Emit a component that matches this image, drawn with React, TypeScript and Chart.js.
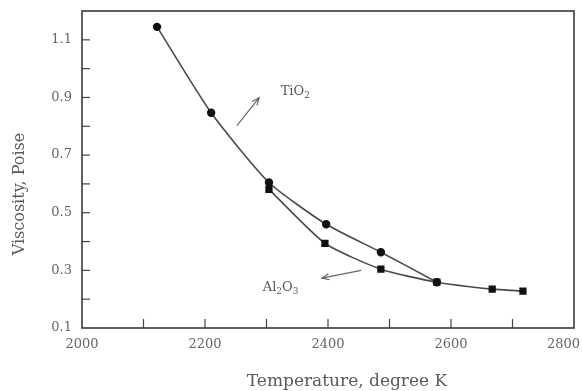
import React, { useEffect, useRef } from "react";
import { Chart, registerables } from "chart.js";

Chart.register(...registerables);

const tio2Temps = [2122, 2210, 2304, 2397, 2486, 2577];
const tio2Visc = [1.145, 0.847, 0.605, 0.46, 0.363, 0.259];
const al2o3Temps = [2304, 2395, 2486, 2577, 2667, 2717];
const al2o3Visc = [0.581, 0.394, 0.304, 0.259, 0.235, 0.228];
const xTitle = "Temperature, degree K";
const yTitle = "Viscosity, Poise";

const SERIF = "'DejaVu Serif', 'Liberation Serif', serif";

const framePlugin = {
  id: "frame",
  afterDraw(chart: any) {
    const { ctx, chartArea: a, scales } = chart;
    const xs = scales.x;
    const ys = scales.y;
    ctx.save();
    // frame
    ctx.strokeStyle = "#3a3a3a";
    ctx.lineWidth = 1.6;
    ctx.strokeRect(a.left, a.top, a.right - a.left, a.bottom - a.top);
    // inner ticks
    ctx.lineWidth = 1.2;
    ctx.strokeStyle = "#444";
    xs.ticks.forEach((t: any) => {
      const px = xs.getPixelForValue(t.value);
      if (px <= a.left + 1 || px >= a.right - 1) return;
      ctx.beginPath();
      ctx.moveTo(px, a.bottom);
      ctx.lineTo(px, a.bottom - 9);
      ctx.stroke();
    });
    ys.ticks.forEach((t: any) => {
      const py = ys.getPixelForValue(t.value);
      if (py >= a.bottom - 1 || py <= a.top + 1) return;
      ctx.beginPath();
      ctx.moveTo(a.left, py);
      ctx.lineTo(a.left + 8, py);
      ctx.stroke();
    });
    // x tick labels
    ctx.fillStyle = "#666";
    ctx.font = `13px ${SERIF}`;
    ctx.textBaseline = "middle";
    ctx.textAlign = "center";
    xs.ticks.forEach((t: any) => {
      const v = Math.round(t.value);
      if (v % 200 !== 0) return;
      const s = String(v);
      const w = ctx.measureText(s).width;
      let px = xs.getPixelForValue(t.value);
      if (px + w / 2 > chart.width - 2) px = chart.width - 2 - w / 2;
      ctx.fillText(s, px, a.bottom + 17);
    });
    // axis titles
    ctx.fillStyle = "#5a5a5a";
    ctx.font = `17px ${SERIF}`;
    ctx.textAlign = "center";
    ctx.textBaseline = "alphabetic";
    ctx.fillText(xTitle, 347, 386);
    ctx.save();
    ctx.translate(24, 194);
    ctx.rotate(-Math.PI / 2);
    ctx.font = `16px ${SERIF}`;
    ctx.fillText(yTitle, 0, 0);
    ctx.restore();

    // annotations
    const P = (x: number, y: number) => [xs.getPixelForValue(x), ys.getPixelForValue(y)];
    const drawArrow = (from: number[], to: number[]) => {
      ctx.strokeStyle = "#666";
      ctx.lineWidth = 1.2;
      ctx.beginPath();
      ctx.moveTo(from[0], from[1]);
      ctx.lineTo(to[0], to[1]);
      ctx.stroke();
      const ang = Math.atan2(to[1] - from[1], to[0] - from[0]);
      const L = 8;
      ctx.beginPath();
      ctx.moveTo(to[0] - L * Math.cos(ang - 0.4), to[1] - L * Math.sin(ang - 0.4));
      ctx.lineTo(to[0], to[1]);
      ctx.lineTo(to[0] - L * Math.cos(ang + 0.4), to[1] - L * Math.sin(ang + 0.4));
      ctx.stroke();
    };
    const drawChem = (parts: [string, boolean][], pos: number[]) => {
      let x = pos[0];
      ctx.fillStyle = "#555";
      ctx.textAlign = "left";
      ctx.textBaseline = "alphabetic";
      parts.forEach(([s, sub]) => {
        ctx.font = sub ? `9px ${SERIF}` : `13px ${SERIF}`;
        ctx.fillText(s, x, pos[1] + (sub ? 3 : 0));
        x += ctx.measureText(s).width;
      });
    };
    drawArrow(P(2252, 0.802), P(2288, 0.899));
    drawChem([["TiO", false], ["2", true]], P(2323, 0.91));
    drawArrow(P(2454, 0.3), P(2390, 0.273));
    drawChem([["Al", false], ["2", true], ["O", false], ["3", true]], P(2294, 0.23));
    ctx.restore();
  },
};

export default function App() {
  const ref = useRef<HTMLCanvasElement | null>(null);
  useEffect(() => {
    if (!ref.current) return;
    const chart = new Chart(ref.current, {
      type: "line",
      data: {
        datasets: [
          {
            label: "TiO2",
            data: tio2Temps.map((t, i) => ({ x: t, y: tio2Visc[i] })),
            borderColor: "#4a4a4a",
            borderWidth: 1.6,
            pointStyle: "circle",
            pointRadius: 3.4,
            pointBackgroundColor: "#111",
            pointBorderColor: "#111",
            tension: 0.2,
            order: 2,
          },
          {
            label: "Al2O3",
            data: al2o3Temps.map((t, i) => ({ x: t, y: al2o3Visc[i] })),
            borderColor: "#4a4a4a",
            borderWidth: 1.6,
            pointStyle: "rect",
            pointRadius: 4,
            pointBackgroundColor: "#111",
            pointBorderColor: "#111",
            tension: 0.2,
            order: 1,
          },
        ],
      },
      options: {
        animation: false,
        responsive: false,
        maintainAspectRatio: false,
        layout: { padding: { left: 0, right: 8, top: 11, bottom: 0 } },
        plugins: { legend: { display: false }, tooltip: { enabled: false } },
        scales: {
          x: {
            type: "linear",
            min: 2000,
            max: 2800,
            ticks: { stepSize: 100, display: false },
            grid: { display: false },
            border: { display: false },
            afterFit: (s: any) => {
              s.height = 63;
              s.paddingLeft = 0;
              s.paddingRight = 0;
            },
          },
          y: {
            type: "linear",
            min: 0.1,
            max: 1.2,
            ticks: {
              stepSize: 0.1,
              padding: 10,
              color: "#666",
              font: { family: SERIF, size: 13 },
              callback: (v: any) => {
                const k = Math.round(Number(v) * 10);
                return k % 2 === 1 && k <= 11 ? (k / 10).toFixed(1) : "";
              },
            },
            grid: { display: false, drawTicks: false },
            border: { display: false },
            afterFit: (s: any) => {
              s.width = 82;
              s.paddingTop = 0;
              s.paddingBottom = 0;
            },
          },
        },
      },
      plugins: [framePlugin],
    });
    return () => chart.destroy();
  }, []);
  return (
    <div style={{ position: "absolute", left: 0, top: 0, width: 582, height: 391, background: "#fff" }}>
      <canvas ref={ref} width={582} height={391} style={{ width: 582, height: 391 }} />
    </div>
  );
}
